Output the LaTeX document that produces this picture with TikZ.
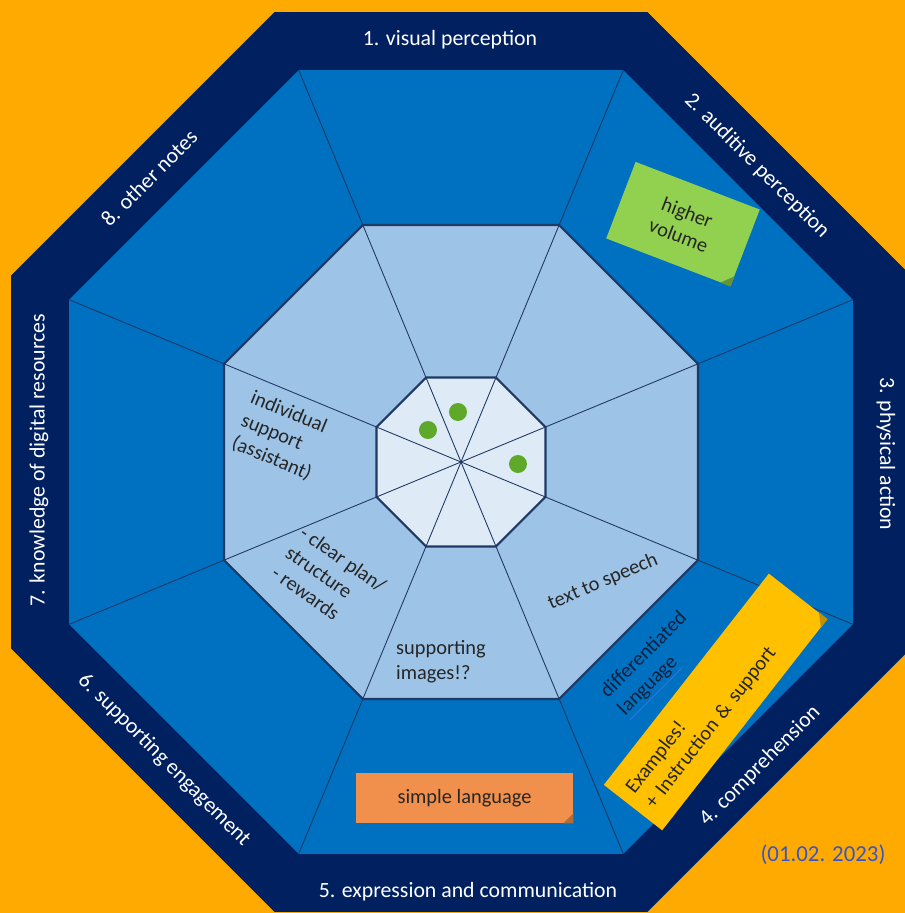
\documentclass[tikz,border=0pt]{standalone}
\usepackage{fontspec}
\setmainfont{Carlito}
\usepackage{tikz}
\usetikzlibrary{shapes.geometric}
\usetikzlibrary{calc}
\definecolor{bgorange}{HTML}{FFAA00}
\definecolor{bandnavy}{HTML}{002060}
\definecolor{midblue}{HTML}{0070C0}
\definecolor{lightblue}{HTML}{9DC3E6}
\definecolor{paleblue}{HTML}{DEEBF7}
\definecolor{linenavy}{HTML}{203864}
\definecolor{inknavy}{HTML}{14213D}
\definecolor{dotgreen}{HTML}{5EA82A}
\definecolor{notegreen}{HTML}{92D050}
\definecolor{noteorange}{HTML}{F0904C}
\definecolor{noteyellow}{HTML}{FFC000}
\definecolor{inkblue}{HTML}{3A55C8}
\definecolor{ulblue}{HTML}{4A6CF0}
\tikzset{
    octagon/.style={ % every ring is one of these
        regular polygon,
        regular polygon sides=8,
        inner sep=0pt,
        outer sep=0pt
    },
    band label/.style={
        text=white,
        font=\fontsize{12.4}{14}\selectfont
    },
    note text/.style={
        text=black!85,
        font=\fontsize{11.6}{14}\selectfont,
        align=left
    },
    spoke/.style={
        draw=linenavy,
        line width=0.5pt
    },
    dot/.style={
        circle,
        fill=dotgreen,
        minimum size=0.36cm,
        inner sep=0pt
    }
}

\begin{document}
\begin{tikzpicture}
    \useasboundingbox (-9.22,-9.02) rectangle (8.88,9.24);
    \fill[bgorange] (-9.22,-9.02) rectangle (8.88,9.24);
    \clip (-9.22,-9.02) rectangle (8.88,9.24);

    % rings, outside in
    \node[octagon, fill=bandnavy, minimum size=19.483cm] (outer) at (0,0) {};
    \node[octagon, fill=midblue, minimum size=16.964cm] (mid) at (0,0) {};
    \foreach \k in {1,...,8}
        \draw[spoke] (mid.corner \k) -- ($(0,0)!0.6!(mid.corner \k)$);
    \node[octagon, fill=lightblue, draw=linenavy, line width=1.2pt, minimum size=10.261cm] (light) at (0,0) {};
    \foreach \k in {1,...,8}
        \draw[spoke] (light.corner \k) -- ($(0,0)!0.35!(light.corner \k)$);
    \node[octagon, fill=paleblue, draw=linenavy, line width=1.2pt, minimum size=3.658cm] (inner) at (0,0) {};
    \foreach \k in {1,...,8}
        \draw[spoke] (inner.center) -- (inner.corner \k);

    % votes
    \node[dot] (dot1) at (-0.66,0.64) {};
    \node[dot] (dot2) at (-0.06,1.0) {};
    \node[dot] (dot3) at (1.14,-0.04) {};

    % labels of the outer band
    \node[band label] (l1) at (-0.22,8.44) {1. visual perception};
    \node[band label, rotate=-45] (l2) at (5.92,5.92) {2. auditive perception};
    \node[band label, rotate=-90] (l3) at (8.5,0.16) {3. physical action};
    \node[band label, rotate=45] (l4) at (5.98,-6.08) {4. comprehension};
    \node[band label] (l5) at (0.14,-8.6) {5. expression and communication};
    \node[band label, rotate=-45] (l6) at (-5.94,-5.96) {6. supporting engagement};
    \node[band label, rotate=90] (l7) at (-8.44,0.04) {7. knowledge of digital resources};
    \node[band label, rotate=45] (l8) at (-6.24,5.68) {8. other notes};

    % written notes
    \node[note text, rotate=-22.5] (indiv) at (-3.6,0.52) {individual\\support\\(assistant)};
    \node[note text, rotate=-35] (plan) at (-2.64,-2.34) {- clear plan/\\structure\\- rewards};
    \node[note text, rotate=23] (tts) at (2.84,-2.4) {text to speech};
    \node[note text] (images) at (-0.4,-4.0) {supporting\\images!?};
    \node[note text, text=inknavy, rotate=45] (diff) at (3.86,-4.06)
        {differentiated\\{\color{ulblue}\underline{\textcolor{inknavy}{language}}}};

    % sticky notes
    \node[note text, align=center, fill=notegreen, rotate=-21,
        minimum width=2.66cm, minimum height=1.64cm] (volume) at (4.44,4.76) {higher\\volume};
    \node[note text, align=center, fill=noteorange,
        minimum width=4.34cm, minimum height=1.0cm] (simple) at (0.07,-6.72) {simple language};
    \node[note text, fill=noteyellow, rotate=52, text width=4.9cm,
        minimum width=5.36cm, minimum height=1.48cm] (examples) at (5.09,-4.8)
        {Examples!\\+ Instruction \& support};
    \fill[notegreen!70!black] (volume.south east) -- ($(volume.south east)!0.22cm!(volume.south west)$)
        -- ($(volume.south east)!0.22cm!(volume.north east)$) -- cycle;
    \fill[noteorange!75!black] (simple.south east) -- ($(simple.south east)!0.2cm!(simple.south west)$)
        -- ($(simple.south east)!0.2cm!(simple.north east)$) -- cycle;
    \fill[noteyellow!75!black] (examples.south east) -- ($(examples.south east)!0.22cm!(examples.south west)$)
        -- ($(examples.south east)!0.22cm!(examples.north east)$) -- cycle;

    \node[text=inkblue, font=\fontsize{13}{15}\selectfont] (date) at (7.24,-7.86) {(01.02. 2023)};
\end{tikzpicture}
\end{document}
